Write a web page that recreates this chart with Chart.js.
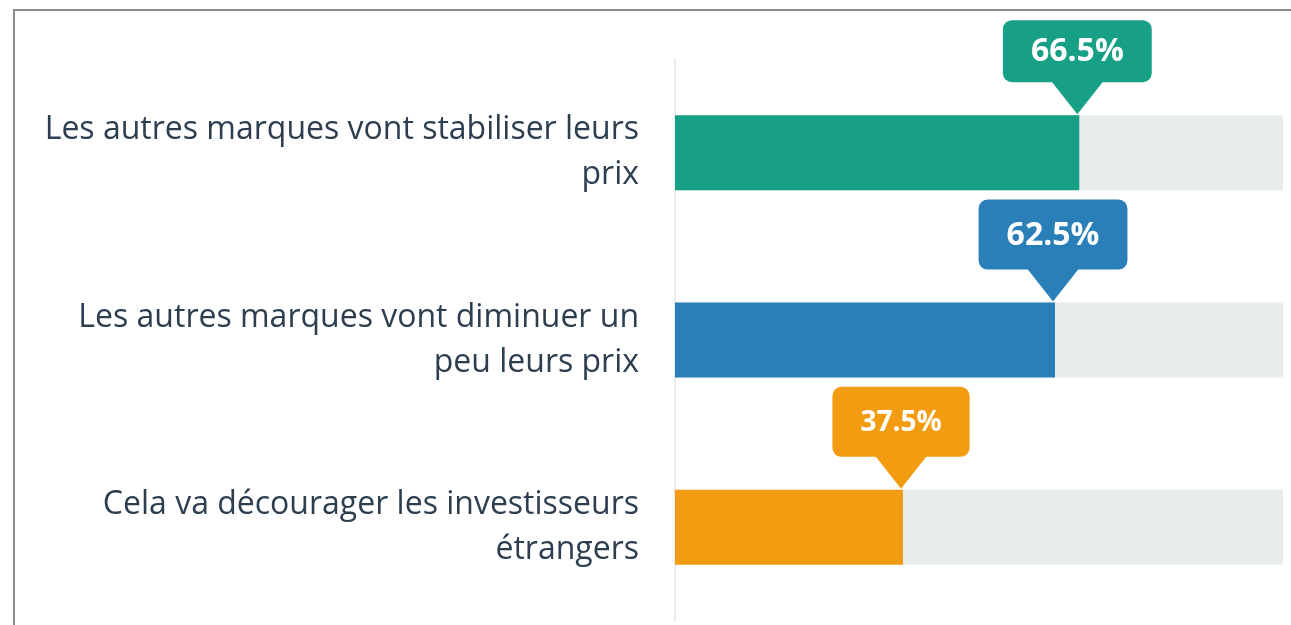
<!DOCTYPE html>
<html>
<head>
<meta charset="utf-8">
<script src="https://cdn.jsdelivr.net/npm/chart.js@4/dist/chart.umd.min.js"></script>
<style>
  html, body { margin: 0; padding: 0; background: #fff; overflow: hidden; }
  #frame {
    position: absolute; left: 13px; top: 9px;
    width: 1400px; height: 700px;
    border: 2px solid #8c8c8c;
  }
  #wrap { position: absolute; left: 0; top: 0; width: 1291px; height: 625px; }
</style>
</head>
<body>
<div id="frame"></div>
<div id="wrap"><canvas id="chart"></canvas></div>
<script>
const categories = [
  ["Les autres marques vont stabiliser leurs", "prix"],
  ["Les autres marques vont diminuer un", "peu leurs prix"],
  ["Cela va décourager les investisseurs", "étrangers"],
];
const values = [66.5, 62.5, 37.5];
const trackValues = [100, 100, 100];
const barColors = ["#17a085", "#2a7fb8", "#f39c12"];
const calloutFontSizes = [32, 32, 28];

// speech-bubble label sitting above the end of each bar
const calloutPlugin = {
  id: "callouts",
  afterDatasetsDraw(chart) {
    const ctx = chart.ctx;
    const meta = chart.getDatasetMeta(0);
    meta.data.forEach((bar, i) => {
      const text = values[i].toFixed(1) + "%";
      const tipX = bar.x - 2;
      const tipY = bar.y - bar.height / 2 - 1;
      const pointerH = 32;
      const pointerHalf = 26;
      const boxH = i === 0 ? 62 : 70;
      ctx.save();
      ctx.font = `bold ${calloutFontSizes[i]}px "Open Sans"`;
      const boxW = ctx.measureText(text).width + 56;
      const boxBottom = tipY - pointerH;
      const boxTop = boxBottom - boxH;
      const boxLeft = tipX - boxW / 2;
      ctx.fillStyle = barColors[i];
      ctx.beginPath();
      ctx.roundRect(boxLeft, boxTop, boxW, boxH, 9);
      ctx.fill();
      ctx.beginPath();
      ctx.moveTo(tipX - pointerHalf, boxBottom - 1);
      ctx.lineTo(tipX + pointerHalf, boxBottom - 1);
      ctx.lineTo(tipX, tipY);
      ctx.closePath();
      ctx.fill();
      ctx.fillStyle = "#ffffff";
      ctx.textAlign = "center";
      ctx.textBaseline = "middle";
      ctx.fillText(text, tipX, boxTop + boxH / 2 + 1);
      ctx.restore();
    });
  },
};

function drawChart() {
  new Chart(document.getElementById("chart"), {
    type: "bar",
    data: {
      labels: categories,
      datasets: [
        {
          data: values,
          backgroundColor: barColors,
          grouped: false,
          categoryPercentage: 1,
          barPercentage: 0.4,
        },
        {
          data: trackValues,
          backgroundColor: "#e8ecec",
          grouped: false,
          categoryPercentage: 1,
          barPercentage: 0.4,
        },
      ],
    },
    options: {
      indexAxis: "y",
      responsive: true,
      maintainAspectRatio: false,
      animation: false,
      layout: { padding: { top: 59, right: 8, bottom: 4, left: 0 } },
      plugins: {
        legend: { display: false },
        tooltip: { enabled: false },
      },
      scales: {
        x: { display: false, min: 0, max: 100 },
        y: {
          afterFit: (scale) => {
            scale.width = 675;
            scale.paddingTop = 0;
            scale.paddingBottom = 0;
          },
          grid: { display: false, drawTicks: false },
          border: { display: true, color: "#e9eeee", width: 2 },
          ticks: {
            padding: 36,
            color: "#2c3e50",
            font: { family: "Open Sans", size: 32, lineHeight: 1.4 },
          },
        },
      },
    },
    plugins: [calloutPlugin],
  });
}

Promise.all([
  document.fonts.load('32px "Open Sans"'),
  document.fonts.load('bold 32px "Open Sans"'),
]).then(drawChart, drawChart);
</script>
</body>
</html>
